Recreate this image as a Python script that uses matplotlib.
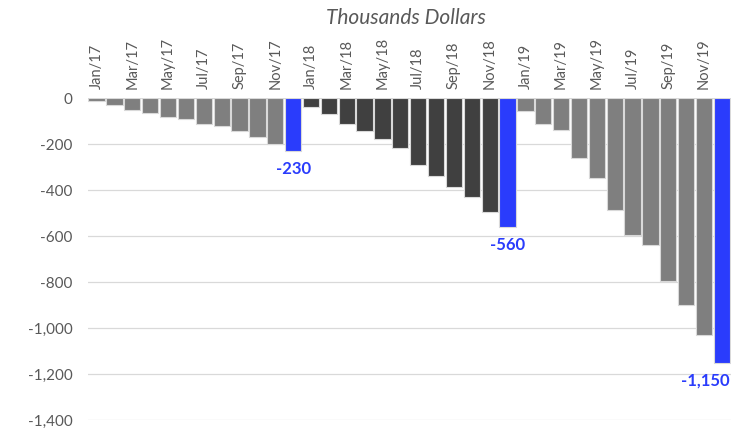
import matplotlib.pyplot as plt
import numpy as np

months = ["Jan", "Feb", "Mar", "Apr", "May", "Jun",
          "Jul", "Aug", "Sep", "Oct", "Nov", "Dec"]
years = ["17", "18", "19"]
labels = [f"{m}/{y}" for y in years for m in months]

values_2017 = [-10, -30, -50, -62, -83, -90, -110, -120, -143, -167, -200, -230]
values_2018 = [-38, -68, -110, -142, -175, -216, -291, -336, -387, -430, -493, -560]
values_2019 = [-55, -112, -139, -261, -346, -486, -594, -639, -797, -901, -1030, -1150]
values = values_2017 + values_2018 + values_2019

gray = "#7f7f7f"
dark = "#404040"
blue = "#2a3cfc"
year_colors = [gray, dark, gray]
colors = []
for c in year_colors:
    colors += [c] * 11 + [blue]

plt.rcParams["font.family"] = ["Lato", "DejaVu Sans"]

fig = plt.figure(figsize=(7.45, 4.28), dpi=100)
ax = fig.add_axes([0.1177, 0.0187, 0.981 - 0.1177, 0.7703 - 0.0187])

x = np.arange(len(values))
ax.bar(x, values, width=0.91, color=colors, edgecolor="#d9d9d9", linewidth=0.8, zorder=3)

ax.set_xlim(-0.5, len(values) - 0.5)
ax.set_ylim(-1400, 0)
ax.set_yticks(np.arange(-1400, 1, 200))
ax.yaxis.set_major_formatter(plt.FuncFormatter(lambda v, p: f"{int(v):,}"))
ax.grid(axis="y", color="#d9d9d9", linewidth=0.9, zorder=0)
ax.set_axisbelow(True)

ax.xaxis.tick_top()
ax.set_xticks(x[::2])
ax.set_xticklabels(labels[::2], rotation=90)
ax.tick_params(axis="x", length=0, pad=7, labelsize=10.5, labelcolor="#595959")
ax.tick_params(axis="y", length=0, pad=11, labelsize=11, labelcolor="#595959")
for s in ax.spines.values():
    s.set_visible(False)

# year-end totals
for i in (11, 23):
    ax.annotate(f"{values[i]:,}", (x[i], values[i]), xytext=(0, -7),
                textcoords="offset points", ha="center", va="top",
                color=blue, fontsize=12, fontweight="bold")
last = len(values) - 1
ax.annotate(f"{values[last]:,}", (x[last] + 0.45, values[last]), xytext=(0, -7),
            textcoords="offset points", ha="right", va="top",
            color=blue, fontsize=12, fontweight="bold")

fig.text(0.545, 0.957, "Thousands Dollars", ha="center", va="center",
         fontsize=15, style="italic", color="#595959")

fig.savefig("out.png", dpi=100)
